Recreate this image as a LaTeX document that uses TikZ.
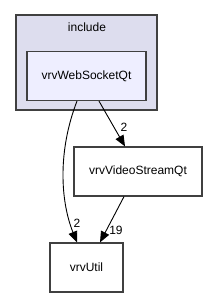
\documentclass[tikz,border=0pt]{standalone}
\usepackage{fontspec}
\setmainfont{Liberation Sans}
\usetikzlibrary{arrows.meta}
\definecolor{clfill}{RGB}{221,221,238}
\definecolor{nfill}{RGB}{238,238,255}
\definecolor{edge}{RGB}{64,64,64}
\begin{document}
\begin{tikzpicture}[x=1pt,y=-1pt,
  box/.style={draw=edge, line width=1.2pt, fill=white, minimum height=49pt, inner sep=0pt},
  dep/.style={draw=black, line width=0.9pt, -{Triangle[length=11pt,width=9pt]}},
  every node/.style={font=\fontsize{12}{14}\selectfont}]
\useasboundingbox (0,0) rectangle (205,297);
\draw[draw=edge, line width=1.2pt, fill=clfill] (16,15) rectangle (157,110);
\node (inc) at (87,27) {include};
\node[box, fill=nfill, minimum width=119pt] (ws) at (86.5,76) {vrvWebSocketQt};
\node[box, minimum width=128pt] (vs) at (138,171.5) {vrvVideoStreamQt};
\node[box, minimum width=73pt] (ut) at (86.5,267.5) {vrvUtil};
\draw[dep] (ws.south -| 77,0) .. controls (58,150) and (60,200) .. (ut.north -| 77,0);
\draw[dep] (ws.south -| 99,0) -- (vs.north -| 125,0);
\draw[dep] (vs.south -| 124,0) -- (ut.north -| 100,0);
\node at (77,223) {2};
\node at (124,127) {2};
\node at (116,230) {19};
\end{tikzpicture}
\end{document}
